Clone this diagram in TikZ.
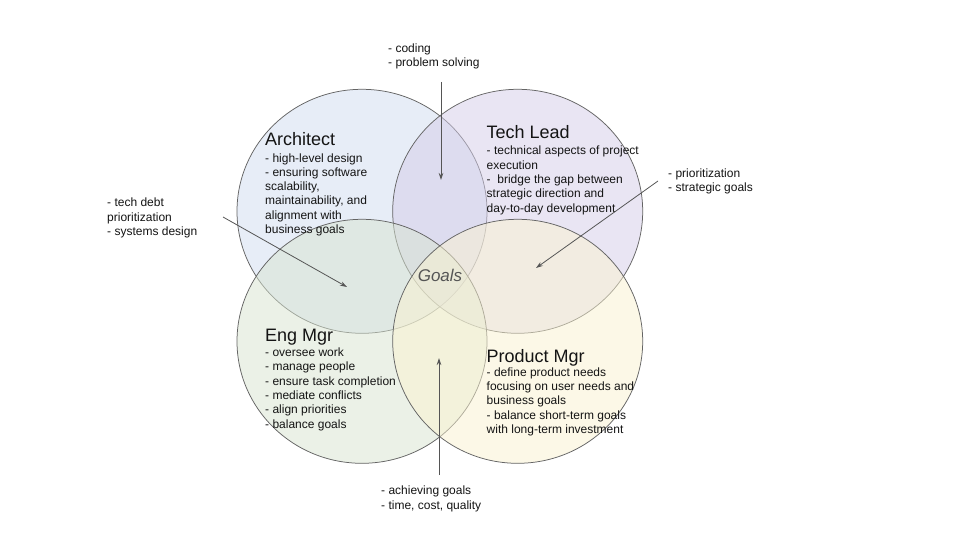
\documentclass[tikz,border=0pt]{standalone}
\usepackage{fontspec}
\setmainfont{Liberation Sans}
\usetikzlibrary{shapes.geometric,arrows.meta}
\definecolor{archfill}{RGB}{209,221,241}
\definecolor{techfill}{RGB}{213,205,233}
\definecolor{engfill}{RGB}{217,229,209}
\definecolor{prodfill}{RGB}{251,243,209}
\definecolor{ringgray}{RGB}{100,100,100}
\definecolor{arrowgray}{RGB}{85,85,85}
\definecolor{goalgray}{RGB}{85,85,85}
\definecolor{txt}{RGB}{20,20,20}
\begin{document}
\begin{tikzpicture}[x=1pt,y=-1pt,
  venn/.style={ellipse, draw=ringgray, line width=0.75pt, fill opacity=0.5,
    minimum width=250pt, minimum height=244pt, inner sep=0pt},
  title/.style={anchor=base west, inner sep=0pt, text=txt,
    font=\fontsize{18}{20}\selectfont},
  body/.style={anchor=base west, inner sep=0pt, align=left, text=txt,
    font=\fontsize{12}{14.3}\selectfont},
  pointer/.style={draw=arrowgray, line width=0.8pt,
    -{Stealth[length=7pt,width=4.5pt]}}]
\useasboundingbox (0,0) rectangle (960,540);
\fill[white] (0,0) rectangle (960,540);

% circles
\node[venn, fill=archfill] (arch) at (362,211.3) {};
\node[venn, fill=techfill] (tech) at (517.7,211.3) {};
\node[venn, fill=engfill] (eng) at (362,341.3) {};
\node[venn, fill=prodfill] (prod) at (517.7,341.3) {};

% titles and bodies (base anchor = last baseline)
\node[title] (archT) at (265,146) {Architect};
\node[body] (archB) at (265,233.5) {- high-level design\\- ensuring software\\scalability,\\maintainability, and\\alignment with\\business goals};

\node[title] (techT) at (486.5,138.7) {Tech Lead};
\node[body] (techB) at (486.5,212) {- technical aspects of project\\execution\\- \ bridge the gap between\\strategic direction and\\day-to-day development};

\node[title] (engT) at (265,341) {Eng Mgr};
\node[body] (engB) at (265,428) {- oversee work\\- manage people\\- ensure task completion\\- mediate conflicts\\- align priorities\\- balance goals};

\node[title] (prodT) at (486.5,362) {Product Mgr};
\node[body] (prodB) at (486.5,433.5) {- define product needs\\focusing on user needs and\\business goals\\- balance short-term goals\\with long-term investment};

\node[text=goalgray, inner sep=0pt, font=\fontsize{17}{17}\itshape] (goals) at (440,275) {Goals};

% outside labels
\node[body] (topL) at (388,66.7) {- coding\\- problem solving};
\node[body] (leftL) at (107,235.5) {- tech debt\\prioritization\\- systems design};
\node[body] (rightL) at (668,191.5) {- prioritization\\- strategic goals};
\node[body] (botL) at (381,509) {- achieving goals\\- time, cost, quality};

% arrows
\coordinate (topS) at (441,82);
\coordinate (topE) at (441,180);
\coordinate (leftS) at (223,217);
\coordinate (leftE) at (347,287);
\coordinate (rightS) at (658,181);
\coordinate (rightE) at (536,268);
\coordinate (botS) at (439,475);
\coordinate (botE) at (439,358);
\draw[pointer] (topS) -- (topE);
\draw[pointer] (leftS) -- (leftE);
\draw[pointer] (rightS) -- (rightE);
\draw[pointer] (botS) -- (botE);
\end{tikzpicture}
\end{document}
